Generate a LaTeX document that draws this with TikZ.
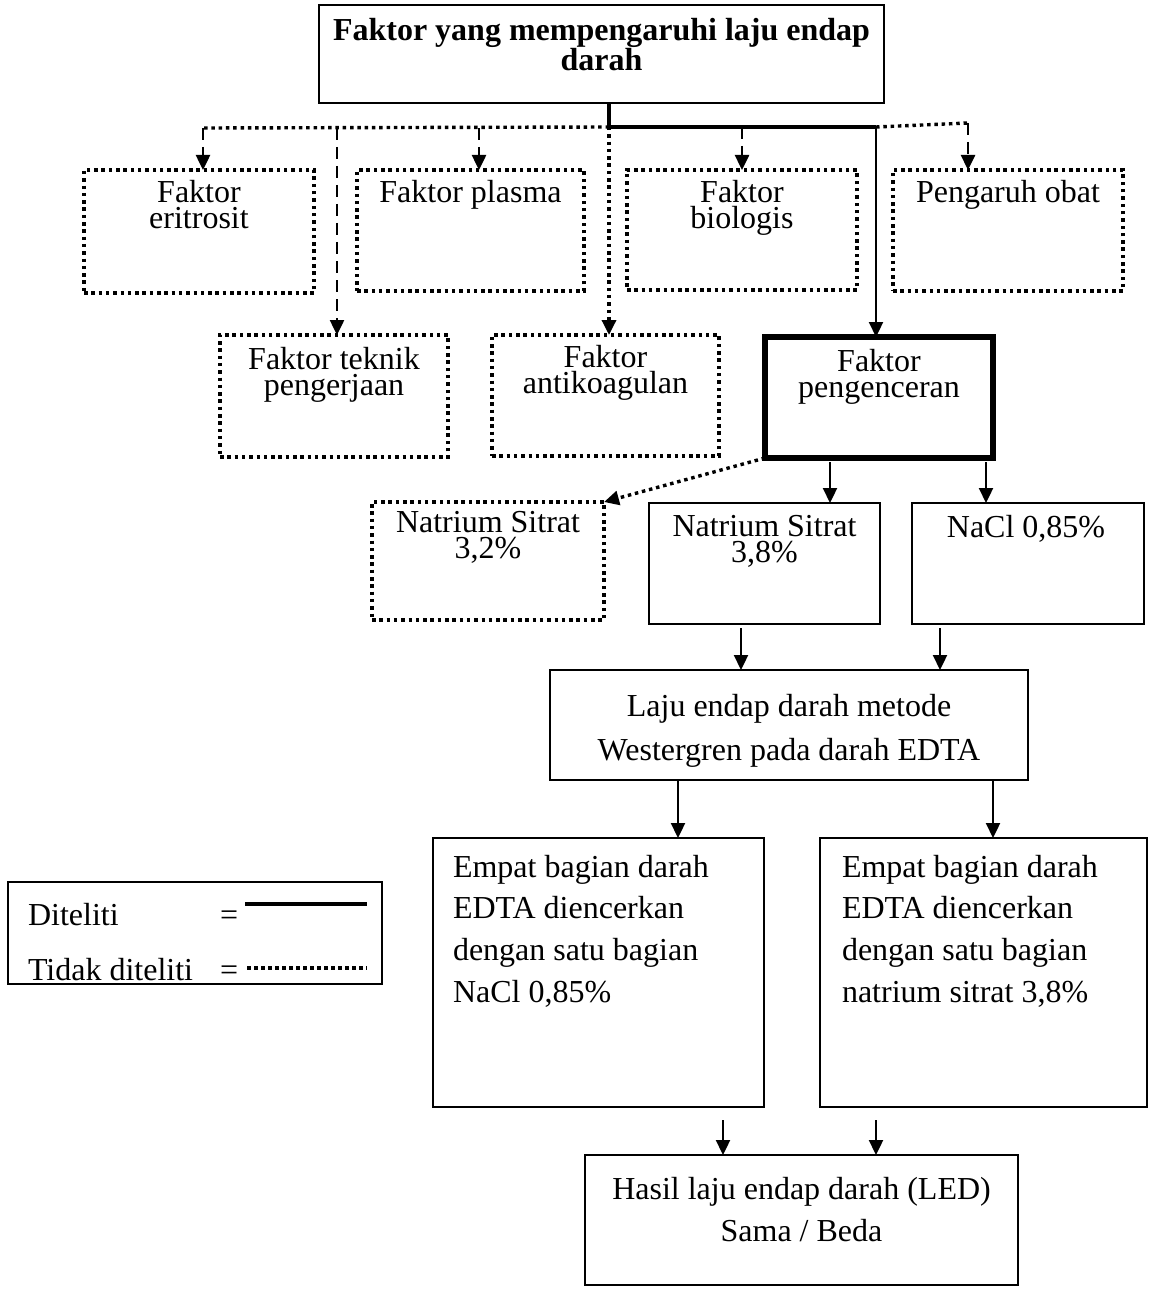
\documentclass[tikz,border=0pt]{standalone}
\usepackage{fontspec}
\setmainfont{Liberation Serif}
\usetikzlibrary{arrows.meta,calc}
\begin{document}
\begin{tikzpicture}[x=1pt,y=-1pt,
  every node/.style={inner sep=0pt, outer sep=0pt},
  sbox/.style={draw, line width=2.8pt, anchor=north west},
  tbox/.style={draw, line width=5.3pt, anchor=north west},
  dbox/.style={draw, line width=3.4pt, dash pattern=on 3.5pt off 3.8pt, anchor=north west},
  lbl/.style={font=\fontsize{32}{26}\selectfont, align=center, anchor=north},
  arr/.style={line width=2.3pt, -{Triangle[width=14pt,length=15pt]}},
  dotline/.style={line width=3.4pt, dash pattern=on 3.5pt off 3.8pt},
  dotarr/.style={arr, dotline},
  dasharr/.style={arr, line width=2.5pt, dash pattern=on 12pt off 7pt}]
\useasboundingbox (0,0) rectangle (1149,1289);
% boxes
\node[sbox, line width=2.5pt, minimum width=565pt, minimum height=98pt] (top) at (319,5) {};
\node[dbox, minimum width=230pt, minimum height=123pt] (erit) at (84,170) {};
\node[dbox, minimum width=227pt, minimum height=121pt] (plasma) at (357,170) {};
\node[dbox, minimum width=230pt, minimum height=120pt] (bio) at (627,170) {};
\node[dbox, minimum width=230pt, minimum height=121pt] (obat) at (893,170) {};
\node[dbox, minimum width=228pt, minimum height=122pt] (teknik) at (220,335) {};
\node[dbox, minimum width=227pt, minimum height=121pt] (antik) at (492,335) {};
\node[tbox, minimum width=228pt, minimum height=121pt] (peng) at (765,337) {};
\node[dbox, minimum width=232pt, minimum height=118pt] (ns32) at (372,502) {};
\node[sbox, minimum width=231pt, minimum height=121pt] (ns38) at (649,503) {};
\node[sbox, minimum width=232pt, minimum height=121pt] (nacl) at (912,503) {};
\node[sbox, minimum width=478pt, minimum height=110pt] (laju) at (550,670) {};
\node[sbox, minimum width=331pt, minimum height=269pt] (empL) at (433,838) {};
\node[sbox, minimum width=327pt, minimum height=269pt] (empR) at (820,838) {};
\node[sbox, minimum width=433pt, minimum height=130pt] (hasil) at (585,1155) {};
\node[draw, line width=1.5pt, anchor=north west, minimum width=374pt, minimum height=102pt] (leg) at (8,882) {};
% texts
\node[lbl, font=\fontsize{32}{24}\selectfont\bfseries] (topT) at (601.5,18) {Faktor yang mempengaruhi laju endap\\darah};
\node[lbl] (eritT) at (199,180) {Faktor\\eritrosit};
\node[lbl] (plasmaT) at (470.5,180) {Faktor plasma};
\node[lbl] (bioT) at (742,180) {Faktor\\biologis};
\node[lbl] (obatT) at (1008,180) {Pengaruh obat};
\node[lbl] (teknikT) at (334,347) {Faktor teknik\\pengerjaan};
\node[lbl] (antikT) at (605.5,345) {Faktor\\antikoagulan};
\node[lbl] (pengT) at (879,349) {Faktor\\pengenceran};
\node[lbl] (ns32T) at (488,511) {Natrium Sitrat\\3,2\%};
\node[lbl] (ns38T) at (764.5,515) {Natrium Sitrat\\3,8\%};
\node[lbl] (naclT) at (1026,515) {NaCl 0,85\%};
\node[lbl, font=\fontsize{32}{44}\selectfont] (lajuT) at (789,694) {Laju endap darah metode\\Westergren pada darah EDTA};
\node[lbl, font=\fontsize{32}{41.7}\selectfont, align=left, anchor=north west] (empLT) at (453,855) {Empat bagian darah\\EDTA diencerkan\\dengan satu bagian\\NaCl 0,85\%};
\node[lbl, font=\fontsize{32}{41.7}\selectfont, align=left, anchor=north west] (empRT) at (842,855) {Empat bagian darah\\EDTA diencerkan\\dengan satu bagian\\natrium sitrat 3,8\%};
\node[lbl, font=\fontsize{32}{42}\selectfont] (hasilT) at (801.5,1177) {Hasil laju endap darah (LED)\\Sama / Beda};
% legend
\node[font=\fontsize{32}{26}\selectfont, anchor=base west] (legA) at (28,925) {Diteliti};
\node[font=\fontsize{32}{26}\selectfont, anchor=base west] (legB) at (28,980) {Tidak diteliti};
\node[font=\fontsize{32}{26}\selectfont, anchor=base west] (eqA) at (220,925) {=};
\node[font=\fontsize{32}{26}\selectfont, anchor=base west] (eqB) at (220,980) {=};
\coordinate (l1a) at (245,904); \coordinate (l1b) at (367,904);
\coordinate (l2a) at (247,968); \coordinate (l2b) at (367,968);
\draw[line width=4pt] (l1a) -- (l1b);
\draw[line width=3.2pt, dash pattern=on 3.5pt off 3.5pt] (l2a) -- (l2b);
% bus
\coordinate (j) at (609,127);
\coordinate (jr) at (876,127);
\coordinate (cE) at (203,128);
\coordinate (cT) at (337,128);
\coordinate (cP) at (479,128);
\coordinate (cB) at (742,127);
\coordinate (cO) at (968,123);
\draw[line width=3.5pt] (top.south -| j) -- (j) -- (jr);
\draw[dotline] (j) -- (cE);
\draw[dotline] (jr) -- (cO);
\draw[arr] (jr) -- (jr |- peng.north);
\draw[dasharr] (cE) -- (cE |- erit.north);
\draw[dasharr] (cT) -- (cT |- teknik.north);
\draw[dasharr] (cP) -- (cP |- plasma.north);
\draw[dotarr] (j) -- (j |- antik.north);
\draw[dasharr] (cB) -- (cB |- bio.north);
\draw[dasharr] (cO) -- (cO |- obat.north);
% lower connectors
\coordinate (x830) at (830,0);
\coordinate (x986) at (986,0);
\coordinate (x741) at (741,0);
\coordinate (x940) at (940,0);
\coordinate (x678) at (678,0);
\coordinate (x993) at (993,0);
\coordinate (x723) at (723,0);
\coordinate (x876) at (876,0);
\draw[dotarr] (peng.south west) -- (ns32.north east);
\draw[arr, shorten <=4pt] (x830 |- peng.south) -- (x830 |- ns38.north);
\draw[arr, shorten <=4pt] (x986 |- peng.south) -- (x986 |- nacl.north);
\draw[arr, shorten <=4pt] (x741 |- ns38.south) -- (x741 |- laju.north);
\draw[arr, shorten <=4pt] (x940 |- nacl.south) -- (x940 |- laju.north);
\draw[arr] (x678 |- laju.south) -- (x678 |- empL.north);
\draw[arr] (x993 |- laju.south) -- (x993 |- empR.north);
\draw[arr, shorten <=13pt] (x723 |- empL.south) -- (x723 |- hasil.north);
\draw[arr, shorten <=13pt] (x876 |- empR.south) -- (x876 |- hasil.north);
\end{tikzpicture}
\end{document}
